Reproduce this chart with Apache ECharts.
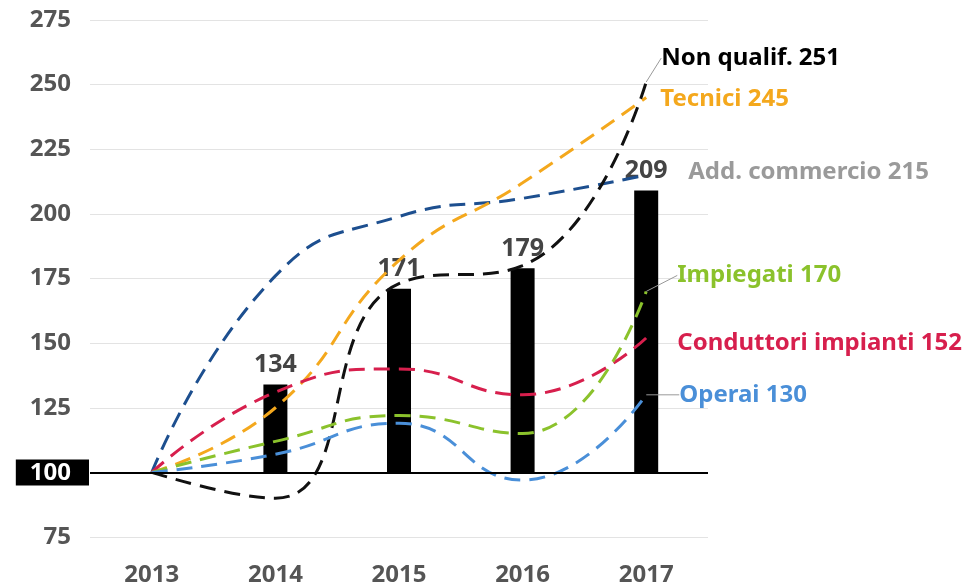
<!DOCTYPE html>
<html>
<head>
<meta charset="utf-8">
<script src="https://cdn.jsdelivr.net/npm/echarts@6/dist/echarts.min.js"></script>
<style>
  html, body { margin: 0; padding: 0; background: #fff; }
  #chart { width: 971px; height: 587px; }
</style>
</head>
<body>
<div id="chart"></div>
<script>
const years = ['2013', '2014', '2015', '2016', '2017']
const yTicks = [75, 100, 125, 150, 175, 200, 225, 250, 275]
const barValues = [null, 134, 171, 179, 209]
const baseValue = 100

const addCommercio = [100, 176, 199, 206, 215]
const tecnici = [100, 125, 182, 212, 245]
const nonQualif = [100, 90, 173, 180, 251]
const conduttori = [100, 131, 140, 130, 152]
const impiegati = [100, 112, 122, 115, 170]
const operai = [100, 107, 119, 97, 130]

const font = '"Noto Sans", "DejaVu Sans", sans-serif'

const lineSeries = [
  { name: 'Add. commercio', data: addCommercio, color: '#1d4f8f', text: '#9a9a9a', dx: 42, dy: -3, leader: false },
  { name: 'Tecnici', data: tecnici, color: '#f4a81d', text: '#f4a81d', dx: 14, dy: 2, leader: false },
  { name: 'Non qualif.', data: nonQualif, color: '#111111', text: '#000000', dx: 15, dy: -24, leader: true },
  { name: 'Conduttori impianti', data: conduttori, color: '#d71f4d', text: '#d71f4d', dx: 31, dy: 5, leader: false },
  { name: 'Impiegati', data: impiegati, color: '#8bc22c', text: '#8bc22c', dx: 31, dy: -16, leader: true },
  { name: 'Operai', data: operai, color: '#4a8fd8', text: '#4a8fd8', dx: 33, dy: 0, leader: true }
]

const chart = echarts.init(document.getElementById('chart'))

const series = [
  {
    type: 'bar',
    stack: 'bar',
    silent: true,
    barWidth: 24,
    itemStyle: { color: 'transparent' },
    data: barValues.map(v => (v == null ? null : baseValue))
  },
  {
    type: 'bar',
    stack: 'bar',
    barWidth: 24,
    itemStyle: { color: '#000' },
    label: {
      show: true,
      position: 'top',
      distance: 7,
      color: '#444',
      fontFamily: font,
      fontWeight: 'bold',
      fontSize: 25,
      formatter: p => barValues[p.dataIndex]
    },
    data: barValues.map(v => (v == null ? null : v - baseValue)),
    markLine: {
      silent: true,
      symbol: 'none',
      label: { show: false },
      lineStyle: { color: '#000', width: 2, type: 'solid' },
      data: [{ yAxis: baseValue }]
    },
    z: 2
  }
]

lineSeries.forEach(s => {
  const last = s.data.length - 1
  series.push({
    type: 'line',
    name: s.name,
    smooth: true,
    symbol: 'circle',
    symbolSize: 0.1,
    showSymbol: true,
    z: 3,
    itemStyle: { color: s.color },
    lineStyle: { color: s.color, width: 3, type: [16, 9] },
    data: s.data.map((v, i) => i === last ? {
      value: v,
      label: {
        show: true,
        position: 'right',
        distance: 0,
        color: s.text,
        fontFamily: font,
        fontWeight: 'bold',
        fontSize: 24,
        formatter: s.name + ' ' + v
      }
    } : v),
    labelLine: { show: s.leader, lineStyle: { color: '#999', width: 1 } },
    labelLayout: { dx: s.dx, dy: s.dy }
  })
})

chart.setOption({
  animation: false,
  grid: { left: 90, right: 263, top: 20, bottom: 43, containLabel: false },
  xAxis: {
    type: 'category',
    data: years,
    axisLine: { show: false },
    axisTick: { show: false },
    axisLabel: {
      margin: 26,
      color: '#555',
      fontFamily: font,
      fontWeight: 'bold',
      fontSize: 24
    }
  },
  yAxis: {
    type: 'value',
    min: yTicks[0],
    max: yTicks[yTicks.length - 1],
    interval: 25,
    axisLine: { show: false },
    axisTick: { show: false },
    splitLine: { lineStyle: { color: '#e3e3e3', width: 1 } },
    axisLabel: {
      margin: 1,
      fontFamily: font,
      fontWeight: 'bold',
      fontSize: 24,
      formatter: v => (v === baseValue ? '{hl|' + v + '}' : '{n|' + v + '}'),
      rich: {
        n: { color: '#555', fontFamily: font, fontWeight: 'bold', fontSize: 24, padding: [0, 18, 0, 0] },
        hl: { color: '#fff', backgroundColor: '#000', fontFamily: font, fontWeight: 'bold', fontSize: 24, padding: [2, 18, 0, 14] }
      }
    }
  },
  series: series
})
</script>
</body>
</html>
